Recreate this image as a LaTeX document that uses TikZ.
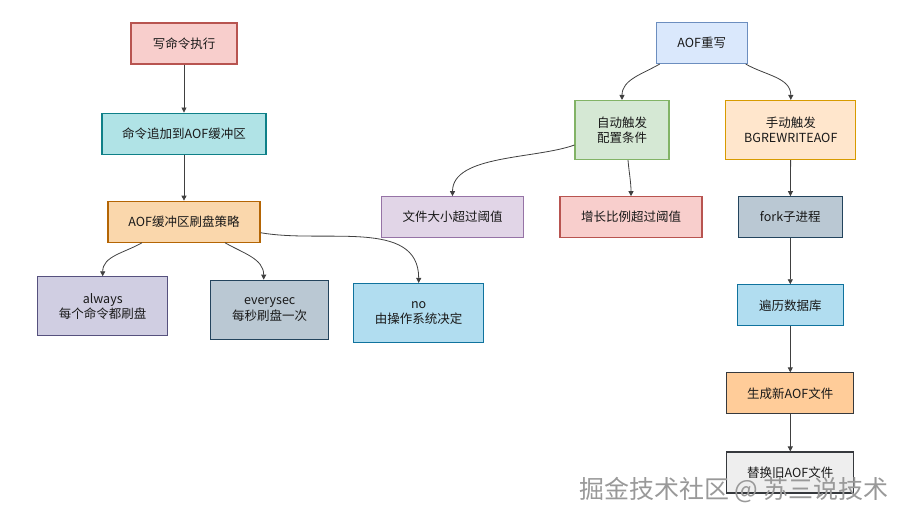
\documentclass[tikz,border=0pt]{standalone}
\usepackage{fontspec}
\setmainfont{Noto Sans CJK SC}
\usetikzlibrary{arrows.meta, positioning}

\definecolor{redfill}{HTML}{F8CECC}
\definecolor{redline}{HTML}{B85450}
\definecolor{tealfill}{HTML}{B0E3E6}
\definecolor{tealline}{HTML}{0E8088}
\definecolor{orangefill}{HTML}{FAD7AC}
\definecolor{orangeline}{HTML}{B46504}
\definecolor{purplefill}{HTML}{D0CEE2}
\definecolor{purpleline}{HTML}{56517E}
\definecolor{slatefill}{HTML}{BAC8D3}
\definecolor{slateline}{HTML}{23445D}
\definecolor{skyfill}{HTML}{B1DDF0}
\definecolor{skyline}{HTML}{10739E}
\definecolor{bluefill}{HTML}{DAE8FC}
\definecolor{blueline}{HTML}{6C8EBF}
\definecolor{greenfill}{HTML}{D5E8D4}
\definecolor{greenline}{HTML}{82B366}
\definecolor{yellowfill}{HTML}{FFE6CC}
\definecolor{yellowline}{HTML}{D79B00}
\definecolor{lilacfill}{HTML}{E1D5E7}
\definecolor{lilacline}{HTML}{9673A6}
\definecolor{peachfill}{HTML}{FFCC99}
\definecolor{greyfill}{HTML}{EEEEEE}
\definecolor{darkline}{HTML}{36393D}

\begin{document}
\begin{tikzpicture}
    [
        x=1pt, y=-1pt,
        box/.style = {
            rectangle, line width=1.1pt, inner sep=0pt, align=center,
            minimum height=41pt, text=black!90,
            font=\fontsize{12.5}{15.5}\selectfont
            },
        tall/.style = {
            minimum height=59pt
            },
        flow/.style = {
            draw=black!75, line width=0.8pt,
            -{Triangle[length=5pt, width=5pt]}
            },
    ]
    \useasboundingbox (0,0) rectangle (905,520);
    %nodes, AOF write path
    \node[box, fill=redfill, draw=redline, minimum width=106pt] (write) at (184,43.5) {写命令执行};
    \node[box, fill=tealfill, draw=tealline, minimum width=164pt] (append) [below=48pt of write] {命令追加到AOF缓冲区};
    \node[box, fill=orangefill, draw=orangeline, minimum width=152pt] (policy) [below=46pt of append] {AOF缓冲区刷盘策略};
    \node[box, tall, fill=purplefill, draw=purpleline, minimum width=130pt] (always) at (102.7,306.3) {always\\每个命令都刷盘};
    \node[box, tall, fill=slatefill, draw=slateline, minimum width=118pt] (everysec) at (269.7,309.7) {everysec\\每秒刷盘一次};
    \node[box, tall, fill=skyfill, draw=skyline, minimum width=130pt] (no) at (418.7,313) {no\\由操作系统决定};
    %nodes, AOF rewrite
    \node[box, fill=bluefill, draw=blueline, minimum width=91pt] (rewrite) at (701.7,43) {AOF重写};
    \node[box, tall, fill=greenfill, draw=greenline, minimum width=94pt] (auto) at (622,130) {自动触发\\配置条件};
    \node[box, tall, fill=yellowfill, draw=yellowline, minimum width=130pt] (manual) at (790.8,130) {手动触发\\BGREWRITEAOF};
    \node[box, fill=lilacfill, draw=lilacline, minimum width=142pt] (size) at (452.5,217.2) {文件大小超过阈值};
    \node[box, fill=redfill, draw=redline, minimum width=142pt] (growth) at (631,217.2) {增长比例超过阈值};
    \node[box, fill=slatefill, draw=slateline, minimum width=104pt] (fork) at (790.3,217.2) {fork子进程};
    \node[box, fill=skyfill, draw=skyline, minimum width=106pt] (traverse) [below=46pt of fork] {遍历数据库};
    \node[box, fill=peachfill, draw=darkline, minimum width=127pt] (newfile) [below=46pt of traverse] {生成新AOF文件};
    \node[box, fill=greyfill, draw=darkline, minimum width=127pt] (replace) [below=37pt of newfile] {替换旧AOF文件};
    %connecting nodes
    \draw[flow] (write) to (append);
    \draw[flow] (append) to (policy);
    \draw[flow] ([xshift=-42pt]policy.south) to[out=-150, in=90] (always.north);
    \draw[flow] ([xshift=41pt]policy.south) to[out=-30, in=90] ([xshift=-6pt]everysec.north);
    \draw[flow] ([yshift=-11pt]policy.east) to[out=-10, in=90] (no.north);
    \draw[flow] ([xshift=-42pt]rewrite.south) to[out=-150, in=90] (auto.north);
    \draw[flow] ([xshift=44pt]rewrite.south) to[out=-30, in=90] (manual.north);
    \draw[flow] ([yshift=-15pt]auto.west) to[out=200, in=90, looseness=0.8] (size.north);
    \draw[flow] ([xshift=6pt]auto.south) to[out=-85, in=90] (growth.north);
    \draw[flow] (manual) to (fork);
    \draw[flow] (fork) to (traverse);
    \draw[flow] (traverse) to (newfile);
    \draw[flow] (newfile) to (replace);
    %watermark
    \node[text=black!40, font=\fontsize{25}{25}\selectfont] (mark) at (734,490) {掘金技术社区 @ 苏三说技术};
\end{tikzpicture}
\end{document}
